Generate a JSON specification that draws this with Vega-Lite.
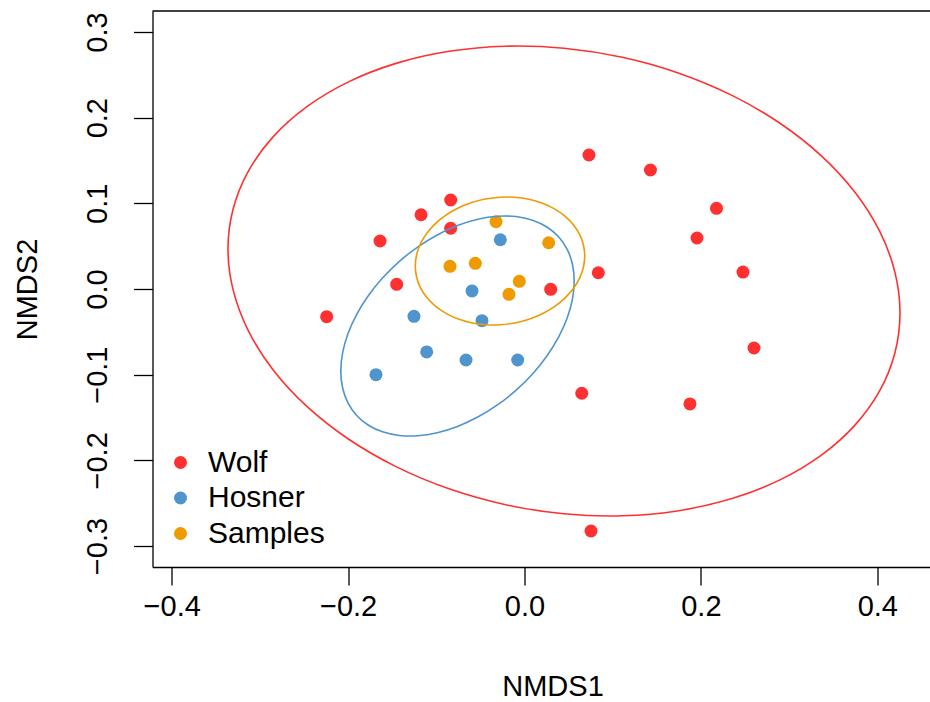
{
  "$schema": "https://vega.github.io/schema/vega-lite/v6.json",
  "width": 777.5,
  "height": 556,
  "autosize": {"type": "none"},
  "padding": {"left": 152.5, "top": 11, "right": 0, "bottom": 135},
  "background": "white",
  "config": {"view": {"stroke": null}, "font": "Liberation Sans"},
  "datasets": {
    "pts": [
      {"g": "Wolf", "x": 0.0731, "y": 0.1564},
      {"g": "Wolf", "x": 0.1428, "y": 0.1389},
      {"g": "Wolf", "x": 0.2177, "y": 0.0942},
      {"g": "Wolf", "x": 0.1956, "y": 0.0595},
      {"g": "Wolf", "x": 0.2477, "y": 0.0198},
      {"g": "Wolf", "x": 0.2602, "y": -0.0689},
      {"g": "Wolf", "x": 0.1876, "y": -0.1342},
      {"g": "Wolf", "x": 0.0649, "y": -0.1217},
      {"g": "Wolf", "x": 0.0754, "y": -0.2825},
      {"g": "Wolf", "x": 0.0837, "y": 0.0190},
      {"g": "Wolf", "x": 0.0297, "y": -0.0004},
      {"g": "Wolf", "x": -0.0837, "y": 0.1039},
      {"g": "Wolf", "x": -0.1173, "y": 0.0867},
      {"g": "Wolf", "x": -0.0837, "y": 0.0709},
      {"g": "Wolf", "x": -0.1638, "y": 0.0560},
      {"g": "Wolf", "x": -0.1449, "y": 0.0055},
      {"g": "Wolf", "x": -0.2243, "y": -0.0323},
      {"g": "Hosner", "x": -0.0274, "y": 0.0575},
      {"g": "Hosner", "x": -0.0595, "y": -0.0023},
      {"g": "Hosner", "x": -0.0482, "y": -0.0370},
      {"g": "Hosner", "x": -0.1253, "y": -0.0319},
      {"g": "Hosner", "x": -0.1109, "y": -0.0735},
      {"g": "Hosner", "x": -0.0663, "y": -0.0829},
      {"g": "Hosner", "x": -0.0077, "y": -0.0829},
      {"g": "Hosner", "x": -0.1684, "y": -0.1000},
      {"g": "Samples", "x": -0.0323, "y": 0.0786},
      {"g": "Samples", "x": 0.0274, "y": 0.0540},
      {"g": "Samples", "x": -0.0845, "y": 0.0265},
      {"g": "Samples", "x": -0.0558, "y": 0.0300},
      {"g": "Samples", "x": -0.0059, "y": 0.0090},
      {"g": "Samples", "x": -0.0176, "y": -0.0062}
    ],
    "ell": [
      {"g": "Wolf", "t": 0, "x": 0.42573, "y": -0.02801},
      {"g": "Wolf", "t": 10, "x": 0.41994, "y": 0.01975},
      {"g": "Wolf", "t": 20, "x": 0.40276, "y": 0.06718},
      {"g": "Wolf", "t": 30, "x": 0.37469, "y": 0.11286},
      {"g": "Wolf", "t": 40, "x": 0.33660, "y": 0.15540},
      {"g": "Wolf", "t": 50, "x": 0.28965, "y": 0.19349},
      {"g": "Wolf", "t": 60, "x": 0.23526, "y": 0.22599},
      {"g": "Wolf", "t": 70, "x": 0.17507, "y": 0.25192},
      {"g": "Wolf", "t": 80, "x": 0.11093, "y": 0.27046},
      {"g": "Wolf", "t": 90, "x": 0.04478, "y": 0.28108},
      {"g": "Wolf", "t": 100, "x": -0.02137, "y": 0.28344},
      {"g": "Wolf", "t": 110, "x": -0.08551, "y": 0.27746},
      {"g": "Wolf", "t": 120, "x": -0.14570, "y": 0.26335},
      {"g": "Wolf", "t": 130, "x": -0.20009, "y": 0.24151},
      {"g": "Wolf", "t": 140, "x": -0.24704, "y": 0.21262},
      {"g": "Wolf", "t": 150, "x": -0.28513, "y": 0.17756},
      {"g": "Wolf", "t": 160, "x": -0.31320, "y": 0.13738},
      {"g": "Wolf", "t": 170, "x": -0.33038, "y": 0.09331},
      {"g": "Wolf", "t": 180, "x": -0.33617, "y": 0.04669},
      {"g": "Wolf", "t": 190, "x": -0.33038, "y": -0.00107},
      {"g": "Wolf", "t": 200, "x": -0.31320, "y": -0.04850},
      {"g": "Wolf", "t": 210, "x": -0.28513, "y": -0.09418},
      {"g": "Wolf", "t": 220, "x": -0.24704, "y": -0.13672},
      {"g": "Wolf", "t": 230, "x": -0.20009, "y": -0.17481},
      {"g": "Wolf", "t": 240, "x": -0.14570, "y": -0.20731},
      {"g": "Wolf", "t": 250, "x": -0.08551, "y": -0.23324},
      {"g": "Wolf", "t": 260, "x": -0.02137, "y": -0.25178},
      {"g": "Wolf", "t": 270, "x": 0.04478, "y": -0.26240},
      {"g": "Wolf", "t": 280, "x": 0.11093, "y": -0.26476},
      {"g": "Wolf", "t": 290, "x": 0.17507, "y": -0.25878},
      {"g": "Wolf", "t": 300, "x": 0.23526, "y": -0.24467},
      {"g": "Wolf", "t": 310, "x": 0.28965, "y": -0.22283},
      {"g": "Wolf", "t": 320, "x": 0.33660, "y": -0.19394},
      {"g": "Wolf", "t": 330, "x": 0.37469, "y": -0.15888},
      {"g": "Wolf", "t": 340, "x": 0.40276, "y": -0.11870},
      {"g": "Wolf", "t": 350, "x": 0.41994, "y": -0.07463},
      {"g": "Hosner", "t": 0, "x": 0.05635, "y": 0.00934},
      {"g": "Hosner", "t": 10, "x": 0.05434, "y": 0.02889},
      {"g": "Hosner", "t": 20, "x": 0.04837, "y": 0.04625},
      {"g": "Hosner", "t": 30, "x": 0.03862, "y": 0.06090},
      {"g": "Hosner", "t": 40, "x": 0.02540, "y": 0.07238},
      {"g": "Hosner", "t": 50, "x": 0.00909, "y": 0.08035},
      {"g": "Hosner", "t": 60, "x": -0.00980, "y": 0.08457},
      {"g": "Hosner", "t": 70, "x": -0.03071, "y": 0.08490},
      {"g": "Hosner", "t": 80, "x": -0.05298, "y": 0.08134},
      {"g": "Hosner", "t": 90, "x": -0.07596, "y": 0.07400},
      {"g": "Hosner", "t": 100, "x": -0.09894, "y": 0.06310},
      {"g": "Hosner", "t": 110, "x": -0.12121, "y": 0.04896},
      {"g": "Hosner", "t": 120, "x": -0.14212, "y": 0.03203},
      {"g": "Hosner", "t": 130, "x": -0.16101, "y": 0.01281},
      {"g": "Hosner", "t": 140, "x": -0.17732, "y": -0.00810},
      {"g": "Hosner", "t": 150, "x": -0.19054, "y": -0.03008},
      {"g": "Hosner", "t": 160, "x": -0.20029, "y": -0.05247},
      {"g": "Hosner", "t": 170, "x": -0.20626, "y": -0.07457},
      {"g": "Hosner", "t": 180, "x": -0.20827, "y": -0.09572},
      {"g": "Hosner", "t": 190, "x": -0.20626, "y": -0.11527},
      {"g": "Hosner", "t": 200, "x": -0.20029, "y": -0.13263},
      {"g": "Hosner", "t": 210, "x": -0.19054, "y": -0.14728},
      {"g": "Hosner", "t": 220, "x": -0.17732, "y": -0.15876},
      {"g": "Hosner", "t": 230, "x": -0.16101, "y": -0.16673},
      {"g": "Hosner", "t": 240, "x": -0.14212, "y": -0.17095},
      {"g": "Hosner", "t": 250, "x": -0.12121, "y": -0.17128},
      {"g": "Hosner", "t": 260, "x": -0.09894, "y": -0.16772},
      {"g": "Hosner", "t": 270, "x": -0.07596, "y": -0.16038},
      {"g": "Hosner", "t": 280, "x": -0.05298, "y": -0.14948},
      {"g": "Hosner", "t": 290, "x": -0.03071, "y": -0.13534},
      {"g": "Hosner", "t": 300, "x": -0.00980, "y": -0.11841},
      {"g": "Hosner", "t": 310, "x": 0.00909, "y": -0.09919},
      {"g": "Hosner", "t": 320, "x": 0.02540, "y": -0.07828},
      {"g": "Hosner", "t": 330, "x": 0.03862, "y": -0.05630},
      {"g": "Hosner", "t": 340, "x": 0.04837, "y": -0.03391},
      {"g": "Hosner", "t": 350, "x": 0.05434, "y": -0.01181},
      {"g": "Samples", "t": 0, "x": 0.06825, "y": 0.03852},
      {"g": "Samples", "t": 10, "x": 0.06679, "y": 0.05136},
      {"g": "Samples", "t": 20, "x": 0.06246, "y": 0.06364},
      {"g": "Samples", "t": 30, "x": 0.05538, "y": 0.07498},
      {"g": "Samples", "t": 40, "x": 0.04578, "y": 0.08502},
      {"g": "Samples", "t": 50, "x": 0.03395, "y": 0.09348},
      {"g": "Samples", "t": 60, "x": 0.02024, "y": 0.10009},
      {"g": "Samples", "t": 70, "x": 0.00506, "y": 0.10466},
      {"g": "Samples", "t": 80, "x": -0.01110, "y": 0.10703},
      {"g": "Samples", "t": 90, "x": -0.02778, "y": 0.10715},
      {"g": "Samples", "t": 100, "x": -0.04446, "y": 0.10501},
      {"g": "Samples", "t": 110, "x": -0.06062, "y": 0.10066},
      {"g": "Samples", "t": 120, "x": -0.07580, "y": 0.09425},
      {"g": "Samples", "t": 130, "x": -0.08951, "y": 0.08598},
      {"g": "Samples", "t": 140, "x": -0.10134, "y": 0.07608},
      {"g": "Samples", "t": 150, "x": -0.11094, "y": 0.06486},
      {"g": "Samples", "t": 160, "x": -0.11802, "y": 0.05266},
      {"g": "Samples", "t": 170, "x": -0.12235, "y": 0.03986},
      {"g": "Samples", "t": 180, "x": -0.12381, "y": 0.02684},
      {"g": "Samples", "t": 190, "x": -0.12235, "y": 0.01400},
      {"g": "Samples", "t": 200, "x": -0.11802, "y": 0.00172},
      {"g": "Samples", "t": 210, "x": -0.11094, "y": -0.00962},
      {"g": "Samples", "t": 220, "x": -0.10134, "y": -0.01966},
      {"g": "Samples", "t": 230, "x": -0.08951, "y": -0.02812},
      {"g": "Samples", "t": 240, "x": -0.07580, "y": -0.03473},
      {"g": "Samples", "t": 250, "x": -0.06062, "y": -0.03930},
      {"g": "Samples", "t": 260, "x": -0.04446, "y": -0.04167},
      {"g": "Samples", "t": 270, "x": -0.02778, "y": -0.04179},
      {"g": "Samples", "t": 280, "x": -0.01110, "y": -0.03965},
      {"g": "Samples", "t": 290, "x": 0.00506, "y": -0.03530},
      {"g": "Samples", "t": 300, "x": 0.02024, "y": -0.02889},
      {"g": "Samples", "t": 310, "x": 0.03395, "y": -0.02062},
      {"g": "Samples", "t": 320, "x": 0.04578, "y": -0.01072},
      {"g": "Samples", "t": 330, "x": 0.05538, "y": 0.00050},
      {"g": "Samples", "t": 340, "x": 0.06246, "y": 0.01270},
      {"g": "Samples", "t": 350, "x": 0.06679, "y": 0.02550}
    ],
    "frame": [
      {"x": -0.42177, "x2": 0.45975, "y": 0.3245}
    ]
  },
  "encoding": {
    "x": {
      "field": "x", "type": "quantitative",
      "scale": {"domain": [-0.42177, 0.45975], "nice": false, "zero": false},
      "axis": {
        "values": [-0.4, -0.2, 0, 0.2, 0.4], "format": ".1f", "title": "NMDS1",
        "grid": false, "domain": true, "domainColor": "black", "domainWidth": 1.3,
        "ticks": true, "tickColor": "black", "tickWidth": 1.3, "tickSize": 18,
        "labelFont": "Liberation Sans", "labelFontSize": 29, "labelColor": "black",
        "labelBaseline": "alphabetic", "labelAlign": "center", "labelPadding": 30,
        "labelFlush": false, "labelOverlap": false, "labelBound": false,
        "titleFont": "Liberation Sans", "titleFontSize": 29, "titleFontWeight": "normal", "titleColor": "black",
        "titleBaseline": "alphabetic", "titleAlign": "center", "titleX": 400, "titleY": 128
      }
    },
    "y": {
      "field": "y", "type": "quantitative",
      "scale": {"domain": [-0.3245, 0.3245], "nice": false, "zero": false},
      "axis": {
        "values": [-0.3, -0.2, -0.1, 0, 0.1, 0.2, 0.3], "format": ".1f", "title": "NMDS2",
        "grid": false, "domain": true, "domainColor": "black", "domainWidth": 1.3,
        "ticks": true, "tickColor": "black", "tickWidth": 1.3, "tickSize": 19,
        "labelFont": "Liberation Sans", "labelFontSize": 29, "labelColor": "black",
        "labelAngle": -90, "labelAlign": "center", "labelBaseline": "alphabetic", "labelPadding": 27,
        "labelFlush": false, "labelOverlap": false, "labelBound": false,
        "titleFont": "Liberation Sans", "titleFontSize": 29, "titleFontWeight": "normal", "titleColor": "black",
        "titleAngle": -90, "titleBaseline": "alphabetic", "titleAlign": "center", "titleX": -116, "titleY": 278
      }
    }
  },
  "layer": [
    {
      "data": {"name": "pts"},
      "mark": {"type": "point", "filled": true, "size": 169, "opacity": 1, "shape": "circle"},
      "encoding": {
        "color": {
          "field": "g", "type": "nominal",
          "scale": {"domain": ["Wolf", "Hosner", "Samples"], "range": ["#FF3030", "#4F94CD", "#EE9A00"]},
          "legend": {
            "orient": "none", "legendX": 13, "legendY": 436.5, "direction": "vertical",
            "title": null, "padding": 0,
            "labelFont": "Liberation Sans", "labelFontSize": 30, "labelColor": "black",
            "symbolType": "circle", "symbolSize": 169, "symbolStrokeWidth": 0, "symbolOpacity": 1,
            "labelOffset": 12.5, "rowPadding": 5.5
          }
        }
      }
    },
    {
      "data": {"name": "ell"},
      "mark": {"type": "line", "interpolate": "cardinal-closed", "strokeWidth": 1.6},
      "encoding": {
        "color": {
          "field": "g", "type": "nominal",
          "scale": {"domain": ["Wolf", "Hosner", "Samples"], "range": ["#FF3030", "#4F94CD", "#EE9A00"]}
        },
        "order": {"field": "t", "type": "quantitative"}
      }
    },
    {
      "data": {"name": "frame"},
      "mark": {"type": "rule", "color": "black", "strokeWidth": 1.3},
      "encoding": {
        "x": {"field": "x", "type": "quantitative"},
        "x2": {"field": "x2"},
        "y": {"field": "y", "type": "quantitative"}
      }
    }
  ]
}
